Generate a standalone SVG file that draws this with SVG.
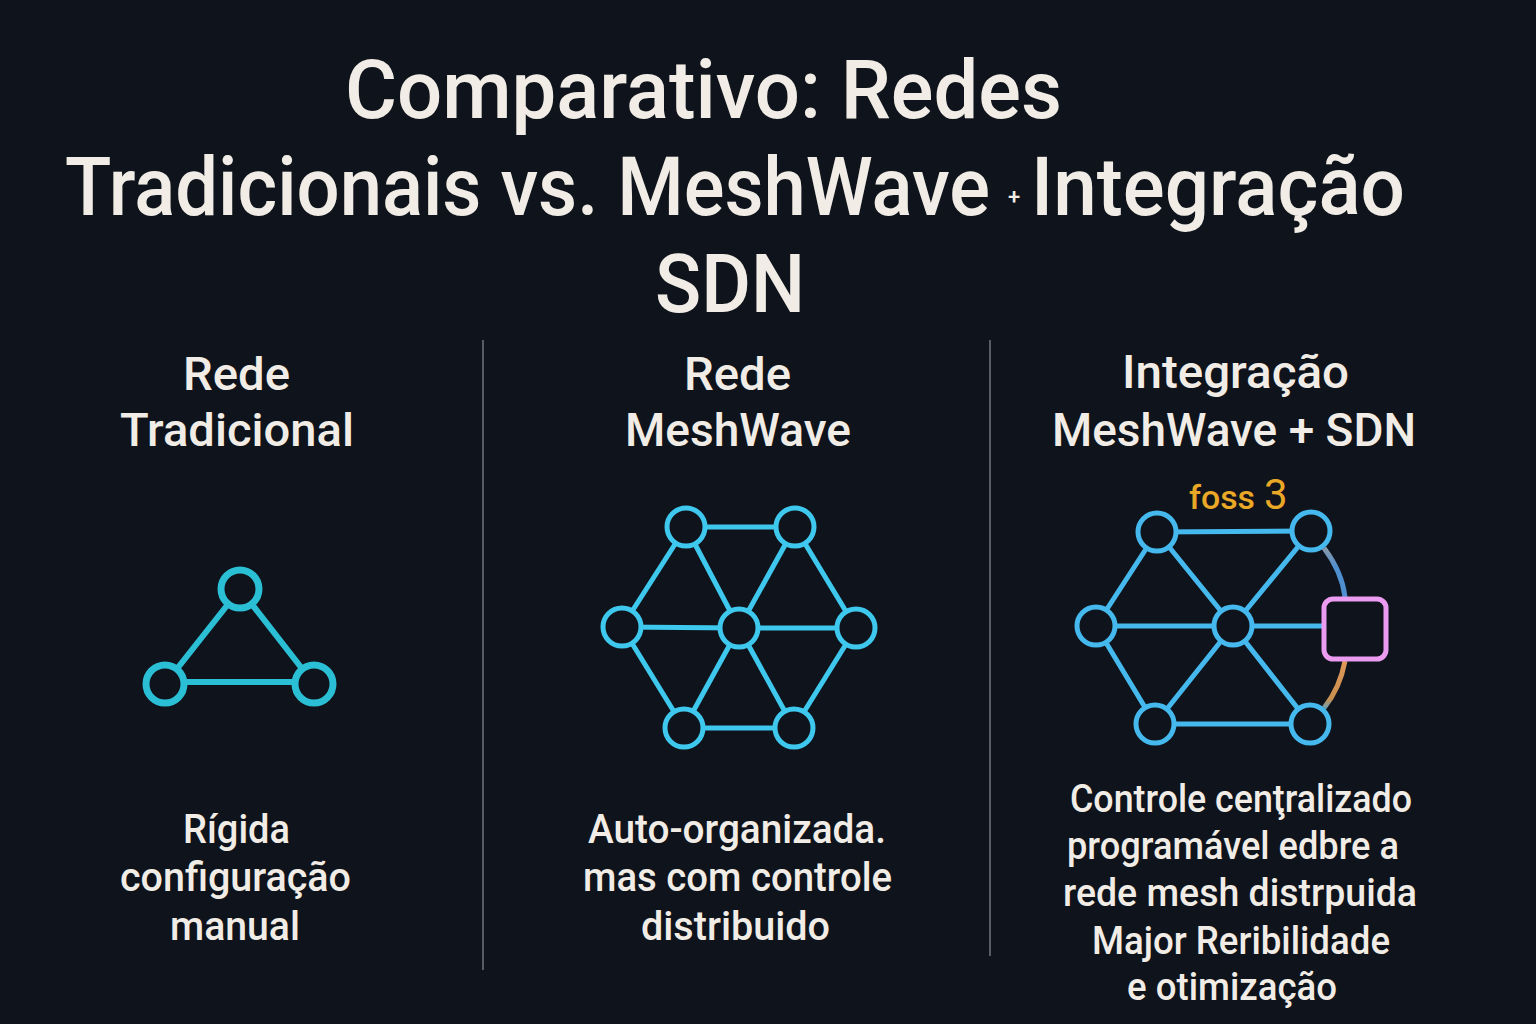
<svg xmlns="http://www.w3.org/2000/svg" width="1536" height="1024" viewBox="0 0 1536 1024">
  <defs>
    <style>
      .title { font-family: Roboto, "Noto Sans", "DejaVu Sans", sans-serif; font-weight: 500; font-size: 82px; fill: #f1ede6; }
      .title-mid { font-family: Roboto, "Noto Sans", "DejaVu Sans", sans-serif; font-weight: 500; font-size: 76px; fill: #f1ede6; }
      .head { font-family: Roboto, "Noto Sans", "DejaVu Sans", sans-serif; font-weight: 500; font-size: 47px; fill: #f1ede6; }
      .body { font-family: Roboto, "Noto Sans", "DejaVu Sans", sans-serif; font-weight: 500; font-size: 40px; fill: #f1ede6; }
      .body-sm { font-family: Roboto, "Noto Sans", "DejaVu Sans", sans-serif; font-weight: 500; font-size: 39px; fill: #f1ede6; }
      .divider { stroke: #8a8e96; stroke-width: 1.2; }
      .tri-edge { stroke: #2bbfd6; stroke-width: 6; fill: none; }
      .tri-node { stroke: #2bbfd6; stroke-width: 7; fill: #0f131b; }
      .mesh-edge { stroke: #3fc8ee; stroke-width: 5; fill: none; }
      .mesh-node { stroke: #3fc8ee; stroke-width: 5; fill: #0f131b; }
      .sdn-edge { stroke: #45b9ee; stroke-width: 5; fill: none; }
      .sdn-node { stroke: #45b9ee; stroke-width: 5; fill: #0f131b; }
      .tag { font-family: Roboto, "Noto Sans", sans-serif; font-weight: 500; fill: #eaa827; }
    </style>
    <linearGradient id="upLink" x1="0" y1="0" x2="0" y2="1">
      <stop offset="0" stop-color="#8a98a8"/>
      <stop offset="0.4" stop-color="#4f8fd0"/>
      <stop offset="1" stop-color="#4f8fd0"/>
    </linearGradient>
    <linearGradient id="downLink" x1="0" y1="0" x2="0" y2="1">
      <stop offset="0" stop-color="#e0975a"/>
      <stop offset="0.8" stop-color="#c8904e"/>
      <stop offset="1" stop-color="#6fa0b0"/>
    </linearGradient>
  </defs>

  <rect width="1536" height="1024" fill="#0f131b"/>

  <!-- Title -->
  <g id="title">
    <text class="title" x="345" y="118" textLength="717" lengthAdjust="spacingAndGlyphs">Comparativo: Redes</text>
    <text class="title-mid" transform="translate(65 215) scale(1 1.08)" x="0" y="0" textLength="925" lengthAdjust="spacingAndGlyphs">Tradicionais vs. MeshWave</text>
    <text class="title" x="1008" y="204" style="font-size:22px">+</text>
    <text class="title-mid" transform="translate(1031 215) scale(1 1.08)" x="0" y="0" textLength="374" lengthAdjust="spacingAndGlyphs">Integração</text>
    <text class="title" x="655" y="312" textLength="150" lengthAdjust="spacingAndGlyphs">SDN</text>
  </g>

  <!-- Column dividers -->
  <g id="dividers">
    <line class="divider" x1="483" y1="340" x2="483" y2="970"/>
    <line class="divider" x1="990" y1="340" x2="990" y2="956"/>
  </g>

  <!-- Column headers -->
  <g id="header-traditional">
    <text class="head" x="183" y="390" textLength="107" lengthAdjust="spacingAndGlyphs">Rede</text>
    <text class="head" x="120" y="446" textLength="234" lengthAdjust="spacingAndGlyphs">Tradicional</text>
  </g>
  <g id="header-meshwave">
    <text class="head" x="684" y="390" textLength="107" lengthAdjust="spacingAndGlyphs">Rede</text>
    <text class="head" x="625" y="446" textLength="226" lengthAdjust="spacingAndGlyphs">MeshWave</text>
  </g>
  <g id="header-sdn">
    <text class="head" x="1122" y="388" textLength="227" lengthAdjust="spacingAndGlyphs">Integração</text>
    <text class="head" x="1052" y="446" textLength="364" lengthAdjust="spacingAndGlyphs">MeshWave + SDN</text>
  </g>

  <!-- Connectors -->
  <g id="connectors">
    <!-- traditional triangle -->
    <line class="tri-edge" x1="240" y1="589" x2="165" y2="684"/>
    <line class="tri-edge" x1="240" y1="589" x2="314" y2="684"/>
    <line class="tri-edge" x1="165" y1="682" x2="314" y2="682"/>

    <!-- MeshWave hexagonal mesh -->
    <line class="mesh-edge" x1="686" y1="527" x2="795" y2="527"/>
    <line class="mesh-edge" x1="686" y1="527" x2="622" y2="627"/>
    <line class="mesh-edge" x1="686" y1="527" x2="739" y2="628"/>
    <line class="mesh-edge" x1="795" y1="527" x2="739" y2="628"/>
    <line class="mesh-edge" x1="795" y1="527" x2="856" y2="628"/>
    <line class="mesh-edge" x1="622" y1="627" x2="739" y2="628"/>
    <line class="mesh-edge" x1="739" y1="628" x2="856" y2="628"/>
    <line class="mesh-edge" x1="622" y1="627" x2="684" y2="728"/>
    <line class="mesh-edge" x1="739" y1="628" x2="684" y2="728"/>
    <line class="mesh-edge" x1="739" y1="628" x2="794" y2="728"/>
    <line class="mesh-edge" x1="856" y1="628" x2="794" y2="728"/>
    <line class="mesh-edge" x1="684" y1="728" x2="794" y2="728"/>

    <!-- MeshWave + SDN -->
    <line class="sdn-edge" x1="1157" y1="532" x2="1311" y2="531"/>
    <line class="sdn-edge" x1="1157" y1="532" x2="1096" y2="626"/>
    <line class="sdn-edge" x1="1157" y1="532" x2="1233" y2="626"/>
    <line class="sdn-edge" x1="1311" y1="531" x2="1233" y2="626"/>
    <line class="sdn-edge" x1="1096" y1="626" x2="1233" y2="626"/>
    <line class="sdn-edge" x1="1233" y1="626" x2="1323" y2="626"/>
    <line class="sdn-edge" x1="1096" y1="626" x2="1155" y2="724"/>
    <line class="sdn-edge" x1="1233" y1="626" x2="1155" y2="724"/>
    <line class="sdn-edge" x1="1233" y1="626" x2="1310" y2="724"/>
    <line class="sdn-edge" x1="1155" y1="724" x2="1310" y2="724"/>
    <path d="M1324 548 Q1342 572 1345 597" stroke="url(#upLink)" stroke-width="5" fill="none"/>
    <path d="M1345 661 Q1340 688 1324 708" stroke="url(#downLink)" stroke-width="5" fill="none"/>
  </g>

  <!-- Traditional nodes -->
  <g id="trad-top"><circle class="tri-node" cx="240" cy="589" r="19"/></g>
  <g id="trad-left"><circle class="tri-node" cx="165" cy="684" r="19"/></g>
  <g id="trad-right"><circle class="tri-node" cx="314" cy="684" r="19"/></g>

  <!-- MeshWave nodes -->
  <g id="mesh-top-left"><circle class="mesh-node" cx="686" cy="527" r="19"/></g>
  <g id="mesh-top-right"><circle class="mesh-node" cx="795" cy="527" r="19"/></g>
  <g id="mesh-left"><circle class="mesh-node" cx="622" cy="627" r="19"/></g>
  <g id="mesh-center"><circle class="mesh-node" cx="739" cy="628" r="19"/></g>
  <g id="mesh-right"><circle class="mesh-node" cx="856" cy="628" r="19"/></g>
  <g id="mesh-bottom-left"><circle class="mesh-node" cx="684" cy="728" r="19"/></g>
  <g id="mesh-bottom-right"><circle class="mesh-node" cx="794" cy="728" r="19"/></g>

  <!-- MeshWave + SDN nodes -->
  <g id="sdn-top-left"><circle class="sdn-node" cx="1157" cy="532" r="19"/></g>
  <g id="sdn-top-right"><circle class="sdn-node" cx="1311" cy="531" r="19"/></g>
  <g id="sdn-left"><circle class="sdn-node" cx="1096" cy="626" r="19"/></g>
  <g id="sdn-center"><circle class="sdn-node" cx="1233" cy="626" r="19"/></g>
  <g id="sdn-bottom-left"><circle class="sdn-node" cx="1155" cy="724" r="19"/></g>
  <g id="sdn-bottom-right"><circle class="sdn-node" cx="1310" cy="724" r="19"/></g>
  <g id="sdn-controller">
    <rect x="1324" y="599" width="62" height="60" rx="9" fill="#0f131b" stroke="#eb9cf0" stroke-width="5"/>
  </g>
  <g id="sdn-label">
    <text class="tag" x="1189" y="509" style="font-size:33px" textLength="66" lengthAdjust="spacingAndGlyphs">foss</text>
    <text class="tag" x="1264" y="509" style="font-size:42px;font-weight:400">3</text>
  </g>

  <!-- Descriptions -->
  <g id="desc-traditional">
    <text class="body" x="183" y="843" textLength="107" lengthAdjust="spacingAndGlyphs">Rígida</text>
    <text class="body" x="120" y="891" textLength="231" lengthAdjust="spacingAndGlyphs">configuração</text>
    <text class="body" x="170" y="940" textLength="130" lengthAdjust="spacingAndGlyphs">manual</text>
  </g>
  <g id="desc-meshwave">
    <text class="body" x="588" y="843" textLength="298" lengthAdjust="spacingAndGlyphs">Auto-organizada.</text>
    <text class="body" x="583" y="891" textLength="309" lengthAdjust="spacingAndGlyphs">mas com controle</text>
    <text class="body" x="641" y="940" textLength="189" lengthAdjust="spacingAndGlyphs">distribuido</text>
  </g>
  <g id="desc-sdn">
    <text class="body-sm" x="1070" y="812" textLength="342" lengthAdjust="spacingAndGlyphs">Controle cenţralizado</text>
    <text class="body-sm" x="1067" y="859" textLength="332" lengthAdjust="spacingAndGlyphs">programável edbre a</text>
    <text class="body-sm" x="1063" y="906" textLength="354" lengthAdjust="spacingAndGlyphs">rede mesh distrpuida</text>
    <text class="body-sm" x="1092" y="954" textLength="298" lengthAdjust="spacingAndGlyphs">Major Reribilidade</text>
    <text class="body-sm" x="1127" y="1000" textLength="210" lengthAdjust="spacingAndGlyphs">e otimização</text>
  </g>
</svg>
